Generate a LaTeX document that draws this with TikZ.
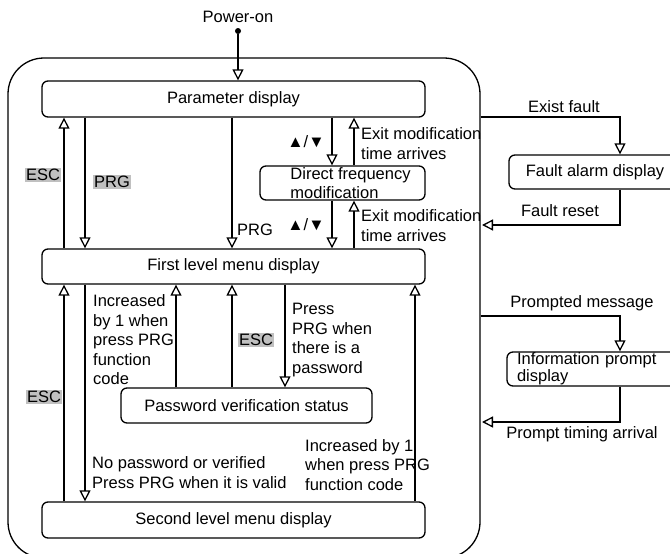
\documentclass[tikz,border=0pt]{standalone}
\usepackage{fontspec}
\setmainfont{Liberation Sans}
\usetikzlibrary{arrows.meta}
\definecolor{hlgray}{RGB}{192,192,192}
\tikzset{
  every node/.style={font=\fontsize{16.5}{19.5}\selectfont},
  box/.style={draw, rounded corners=6pt, line width=1.3pt, inner sep=0pt},
  lbl/.style={inner sep=0pt},
  hl/.style={fill=hlgray, inner sep=1.2pt},
  conn/.style={line width=1.3pt, -{Triangle[open,length=11pt,width=11pt]}},
  plain/.style={line width=1.3pt}
}
\begin{document}
\begin{tikzpicture}[x=1pt,y=-1pt]
\useasboundingbox (0,0) rectangle (670,554);
\clip (0,0) rectangle (670,554);
\fill[white] (0,0) rectangle (670,554);

% outer frame
\node[draw, line width=1.3pt, rounded corners=36pt, minimum width=472pt, minimum height=500pt, inner sep=0pt] (outer) at (244,308) {};

% column coordinates
\coordinate (cA) at (64,0);
\coordinate (cB) at (85,0);
\coordinate (cC) at (176,0);
\coordinate (cD) at (232,0);
\coordinate (cE) at (285,0);
\coordinate (cF) at (332,0);
\coordinate (cG) at (354,0);
\coordinate (cH) at (415,0);
\coordinate (cR) at (620,0);
\coordinate (cP) at (238,0);
\coordinate (rowF) at (0,225);
\coordinate (rowE) at (0,117);
\coordinate (rowM) at (0,316);
\coordinate (rowT) at (0,422);
\coordinate (rIn) at (482,0);

% boxes
\node[box, minimum width=383pt, minimum height=36pt] (param) at (233.5,99) {Parameter display};
\node[box, minimum width=383pt, minimum height=35pt] (first) at (233.5,266.5) {First level menu display};
\node[box, minimum width=383pt, minimum height=36pt] (second) at (233.5,520) {Second level menu display};
\node[box, minimum width=165pt, minimum height=34pt, align=left] (direct) at (342.5,183) {\hspace*{16pt}Direct frequency\\\hspace*{16pt}modification};
\node[box, minimum width=251pt, minimum height=35pt] (pass) at (246.5,405.5) {Password verification status};
\node[box, minimum width=172pt, minimum height=34pt] (fault) at (595,172) {Fault alarm display};
\node[box, minimum width=174pt, minimum height=34pt, align=left, text width=154pt, inner xsep=10pt, font=\fontsize{16.5}{17}\selectfont] (info) at (594,369) {Information prompt\\display};

% power on
\node[lbl] (power) at (238,17) {Power-on};
\node[circle, fill=black, inner sep=0pt, minimum size=6pt] (dot) at (238,31) {};
\draw[conn] (dot) -- (param.north -| cP);

% parameter <-> first
\draw[conn] (first.north -| cA) -- (param.south -| cA);
\draw[conn] (param.south -| cB) -- (first.north -| cB);
\draw[conn] (param.south -| cD) -- (first.north -| cD);
\draw[conn] (param.south -| cF) -- (direct.north -| cF);
\draw[conn] (direct.north -| cG) -- (param.south -| cG);
\draw[conn] (direct.south -| cF) -- (first.north -| cF);
\draw[conn] (first.north -| cG) -- (direct.south -| cG);

\node[hl] (lesc1) at (43,175) {ESC};
\node[hl] (lprg1) at (112,182) {PRG};
\node[lbl] (lprg2) at (255,230) {PRG};
\node[lbl] (lud1) at (306,142) {▲/▼};
\node[lbl, anchor=west, align=left] (lexit1) at (361,143.5) {Exit modification\\time arrives};
\node[lbl] (lud2) at (306,225) {▲/▼};
\node[lbl, anchor=west, align=left] (lexit2) at (361,225.5) {Exit modification\\time arrives};

% fault loop
\draw[conn] (outer.east |- rowE) -| (fault.north -| cR);
\draw[conn] (fault.south -| cR) |- (rIn |- rowF);
\node[lbl] (lfault) at (564,107) {Exist fault};
\node[lbl] (lreset) at (560,211) {Fault reset};

% first <-> second / password
\draw[conn] (second.north -| cA) -- (first.south -| cA);
\draw[conn] (first.south -| cB) -- (second.north -| cB);
\draw[conn] (pass.north -| cC) -- (first.south -| cC);
\draw[conn] (pass.north -| cD) -- (first.south -| cD);
\draw[conn] (first.south -| cE) -- (pass.north -| cE);
\draw[conn] (second.north -| cH) -- (first.south -| cH);

\node[hl] (lesc2) at (44,397) {ESC};
\node[hl] (lesc3) at (256,340) {ESC};
\node[lbl, anchor=west, align=left] (linc1) at (93,340) {Increased\\by 1 when\\press PRG\\function\\code};
\node[lbl, anchor=west, align=left] (lpress) at (292,340) {Press\\PRG when\\there is a\\password};
\node[lbl, anchor=west, align=left] (lnopw) at (92,472.5) {No password or verified\\Press PRG when it is valid};
\node[lbl, anchor=west, align=left] (linc2) at (305,465) {Increased by 1\\when press PRG\\function code};

% info loop
\draw[conn] (outer.east |- rowM) -| (info.north -| cR);
\draw[conn] (info.south -| cR) |- (rIn |- rowT);
\node[lbl] (lprompted) at (582,303) {Prompted message};
\node[lbl] (ltiming) at (582,434) {Prompt timing arrival};
\end{tikzpicture}
\end{document}
